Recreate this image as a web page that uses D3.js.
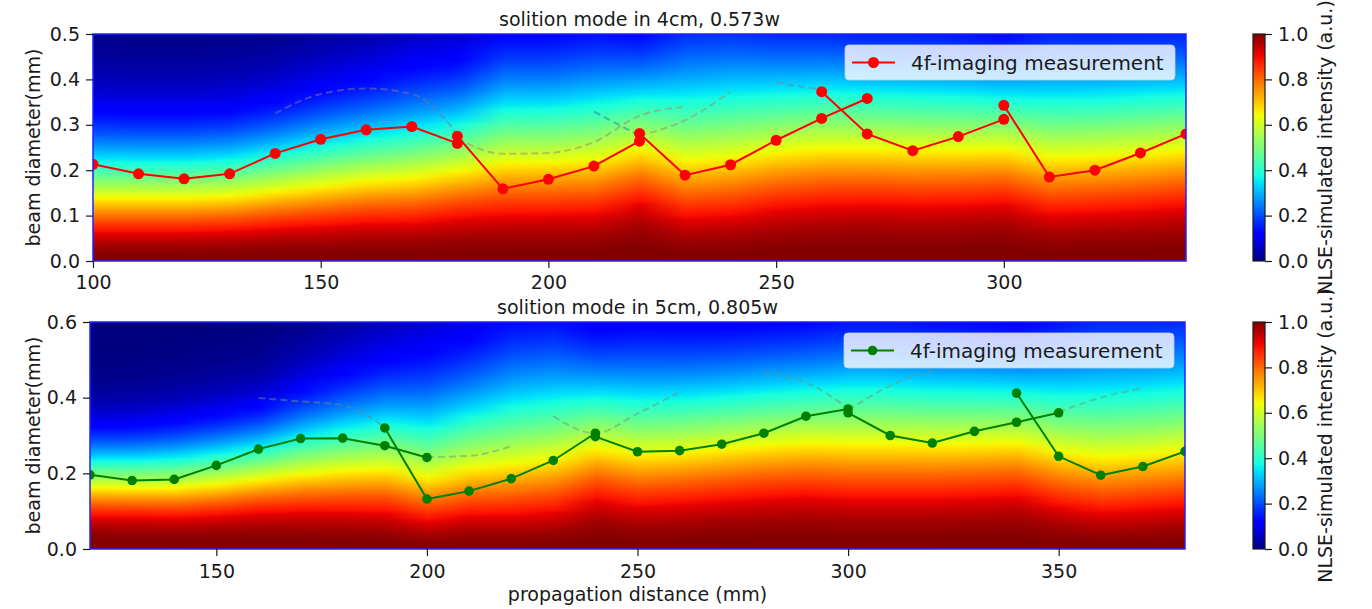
<!DOCTYPE html>
<html>
<head>
<meta charset="utf-8">
<script src="https://cdn.jsdelivr.net/npm/d3@7"></script>
<style>
  body { margin: 0; background: #fff; }
  svg text { font-family: "DejaVu Sans", sans-serif; fill: #1a1a1a; }
</style>
</head>
<body>
<svg id="chart" width="1372" height="609"></svg>
<script>
// ---- data ----
const topTitle = 'solition mode in 4cm, 0.573w';
const bottomTitle = 'solition mode in 5cm, 0.805w';
const xLabel = 'propagation distance (mm)';
const yLabel = 'beam diameter(mm)';
const cbarLabel = 'NLSE-simulated intensity (a.u.)';
const legendLabel = '4f-imaging measurement';

const topXTicks = [100, 150, 200, 250, 300];
const topYTicks = [0.0, 0.1, 0.2, 0.3, 0.4, 0.5];
const bottomXTicks = [150, 200, 250, 300, 350];
const bottomYTicks = [0.0, 0.2, 0.4, 0.6];
const cbarTicks = [0.0, 0.2, 0.4, 0.6, 0.8, 1.0];

// simulated intensity map: diameter (mm) where intensity reads 0.65 (yellow) and 0.36 (cyan)
const topSimX = [100, 110, 120, 130, 140, 150, 160, 170, 180, 190, 200, 210, 220, 230, 240, 250, 260, 270, 280, 290, 300, 310, 320, 330, 340];
const topYellowD = [0.138, 0.138, 0.138, 0.142, 0.153, 0.164, 0.175, 0.182, 0.197, 0.215, 0.216, 0.222, 0.244, 0.219, 0.226, 0.239, 0.246, 0.246, 0.243, 0.243, 0.244, 0.226, 0.229, 0.235, 0.243];
const topCyanD = [0.222, 0.221, 0.221, 0.226, 0.241, 0.259, 0.275, 0.290, 0.307, 0.340, 0.341, 0.351, 0.362, 0.362, 0.369, 0.373, 0.377, 0.373, 0.371, 0.368, 0.363, 0.362, 0.363, 0.368, 0.373];

const bottomSimX = [120, 130, 140, 150, 160, 170, 180, 190, 200, 210, 220, 230, 240, 250, 260, 270, 280, 290, 300, 310, 320, 330, 340, 350, 360, 370, 380];
const bottomYellowD = [0.161, 0.160, 0.161, 0.170, 0.183, 0.196, 0.205, 0.210, 0.188, 0.212, 0.223, 0.236, 0.265, 0.249, 0.254, 0.263, 0.272, 0.278, 0.276, 0.276, 0.274, 0.276, 0.278, 0.254, 0.241, 0.248, 0.258];
const bottomCyanD = [0.236, 0.236, 0.241, 0.254, 0.271, 0.298, 0.320, 0.337, 0.328, 0.359, 0.386, 0.399, 0.406, 0.399, 0.401, 0.408, 0.417, 0.424, 0.430, 0.430, 0.425, 0.424, 0.421, 0.415, 0.417, 0.421, 0.430];

// 4f-imaging measurement runs
const topRunX = [
  [100, 110, 120, 130, 140, 150, 160, 170, 180],
  [180, 190, 200, 210, 220],
  [220, 230, 240, 250, 260, 270],
  [260, 270, 280, 290, 300],
  [300, 310, 320, 330, 340]
];
const topRunD = [
  [0.213, 0.192, 0.181, 0.192, 0.237, 0.268, 0.289, 0.296, 0.259],
  [0.275, 0.159, 0.180, 0.209, 0.264],
  [0.281, 0.189, 0.212, 0.266, 0.314, 0.358],
  [0.373, 0.280, 0.243, 0.274, 0.312],
  [0.343, 0.185, 0.200, 0.238, 0.280]
];
const bottomRunX = [
  [120, 130, 140, 150, 160, 170, 180, 190, 200],
  [190, 200, 210, 220, 230, 240],
  [240, 250, 260, 270, 280, 290, 300],
  [300, 310, 320, 330, 340, 350],
  [340, 350, 360, 370, 380]
];
const bottomRunD = [
  [0.196, 0.181, 0.184, 0.221, 0.264, 0.292, 0.293, 0.273, 0.242],
  [0.320, 0.132, 0.153, 0.186, 0.234, 0.306],
  [0.297, 0.257, 0.260, 0.277, 0.306, 0.351, 0.370],
  [0.360, 0.300, 0.280, 0.311, 0.335, 0.360],
  [0.412, 0.245, 0.195, 0.218, 0.258]
];

// faint dashed simulated-diameter traces
const topTraceX = [[140, 150, 160, 170, 180], [180, 190, 200, 210, 220, 230], [210, 220], [220, 230, 240], [250, 260]];
const topTraceD = [[0.325, 0.368, 0.380, 0.368, 0.280], [0.270, 0.236, 0.238, 0.262, 0.320, 0.340], [0.329, 0.276], [0.276, 0.310, 0.373], [0.393, 0.377]];
const topTraceColor = ['#8a6f9a', '#9a8a6a', '#1f77b4', '#9a8a6a', '#808080'];
const bottomTraceX = [[160, 170, 180, 190], [200, 210, 220], [230, 240, 250, 260], [280, 290, 300], [300, 310, 320], [350, 360, 370]];
const bottomTraceD = [[0.399, 0.390, 0.380, 0.322], [0.243, 0.246, 0.272], [0.351, 0.306, 0.358, 0.415], [0.465, 0.440, 0.372], [0.366, 0.432, 0.472], [0.362, 0.400, 0.425]];
const bottomTraceColor = ['#6a8a7a', '#6a9a7a', '#6a9a7a', '#6a9a7a', '#6a9a7a', '#6a9a7a'];

// ---- helpers ----
const svg = d3.select('#chart');
const fontSize = 19;

const jetR = d3.scaleLinear().domain([0, 0.35, 0.66, 0.89, 1]).range([0, 0, 1, 1, 0.5]).clamp(true);
const jetG = d3.scaleLinear().domain([0, 0.125, 0.375, 0.64, 0.91, 1]).range([0, 0, 1, 1, 0, 0]).clamp(true);
const jetB = d3.scaleLinear().domain([0, 0.11, 0.34, 0.65, 1]).range([0.5, 1, 1, 0, 0]).clamp(true);
const jet = (v) => [jetR(v), jetG(v), jetB(v)].map((c) => Math.round(c * 255));

const levelYellow = -Math.log(0.65);
const levelCyan = -Math.log(0.36);

// beam profile through the two read contour heights
function profile(yellowD, cyanD) {
  const p = Math.log(levelCyan / levelYellow) / Math.log(cyanD / yellowD);
  const a = cyanD / Math.pow(levelCyan, 1 / p);
  return (d) => Math.exp(-Math.pow(d / a, p));
}

function heatmapURL(simX, yellowD, cyanD, yMax, rows) {
  const canvas = document.createElement('canvas');
  canvas.width = simX.length;
  canvas.height = rows;
  const ctx = canvas.getContext('2d');
  const img = ctx.createImageData(simX.length, rows);
  simX.forEach((_, i) => {
    const f = profile(yellowD[i], cyanD[i]);
    for (let r = 0; r < rows; r += 1) {
      const d = yMax * (1 - (r + 0.5) / rows);
      const [R, G, B] = jet(f(d));
      const k = (r * simX.length + i) * 4;
      img.data[k] = R;
      img.data[k + 1] = G;
      img.data[k + 2] = B;
      img.data[k + 3] = 255;
    }
  });
  ctx.putImageData(img, 0, 0);
  return canvas.toDataURL();
}

function styleAxis(g) {
  g.attr('font-size', null).attr('font-family', null);
  g.selectAll('text').style('font-size', fontSize + 'px');
  g.selectAll('line').attr('stroke', '#1a1a1a').attr('stroke-width', 1.2);
  g.select('.domain').remove();
}

function drawPanel(cfg) {
  const { box, id } = cfg;
  const x = d3.scaleLinear().domain(cfg.xDomain).range([box.left, box.right]);
  const y = d3.scaleLinear().domain(cfg.yDomain).range([box.bottom, box.top]);
  const g = svg.append('g');

  g.append('clipPath').attr('id', 'clip-' + id)
    .append('rect')
    .attr('x', box.left).attr('y', box.top)
    .attr('width', box.right - box.left).attr('height', box.bottom - box.top);

  const plot = g.append('g').attr('clip-path', `url(#clip-${id})`);

  // simulated intensity map
  const step = cfg.simX[1] - cfg.simX[0];
  const rows = Math.round(box.bottom - box.top);
  const x0 = x(cfg.simX[0] - step / 2);
  const x1 = x(cfg.simX[cfg.simX.length - 1] + step / 2);
  plot.append('image')
    .attr('href', heatmapURL(cfg.simX, cfg.yellowD, cfg.cyanD, cfg.yDomain[1], rows))
    .attr('x', x0).attr('y', y(cfg.yDomain[1]))
    .attr('width', x1 - x0).attr('height', y(0) - y(cfg.yDomain[1]))
    .attr('preserveAspectRatio', 'none');

  // dashed simulated traces
  const trace = d3.line().x((d) => x(d[0])).y((d) => y(d[1])).curve(d3.curveMonotoneX);
  cfg.traceX.forEach((xs, i) => {
    plot.append('path')
      .attr('d', trace(xs.map((v, j) => [v, cfg.traceD[i][j]])))
      .attr('fill', 'none')
      .attr('stroke', cfg.traceColor[i])
      .attr('stroke-opacity', 0.5)
      .attr('stroke-width', 2)
      .attr('stroke-dasharray', '7,4');
  });

  // measurement runs
  const line = d3.line().x((d) => x(d[0])).y((d) => y(d[1]));
  cfg.runX.forEach((xs, i) => {
    const pts = xs.map((v, j) => [v, cfg.runD[i][j]]);
    plot.append('path')
      .attr('d', line(pts))
      .attr('fill', 'none')
      .attr('stroke', cfg.color)
      .attr('stroke-width', 2);
    plot.selectAll(null)
      .data(pts)
      .join('circle')
      .attr('cx', (d) => x(d[0]))
      .attr('cy', (d) => y(d[1]))
      .attr('r', cfg.markerR)
      .attr('fill', cfg.color);
  });

  // spines
  g.append('rect')
    .attr('x', box.left).attr('y', box.top)
    .attr('width', box.right - box.left).attr('height', box.bottom - box.top)
    .attr('fill', 'none')
    .attr('stroke', '#2222ff')
    .attr('stroke-width', 1.5);

  g.append('g')
    .attr('transform', `translate(0,${box.bottom})`)
    .call(d3.axisBottom(x).tickValues(cfg.xTicks).tickSize(7).tickPadding(cfg.xPad).tickFormat(d3.format('d')))
    .call(styleAxis);

  g.append('g')
    .attr('transform', `translate(${box.left},0)`)
    .call(d3.axisLeft(y).tickValues(cfg.yTicks).tickSize(7).tickPadding(6).tickFormat(d3.format('.1f')))
    .call(styleAxis);

  g.append('text')
    .attr('x', (box.left + box.right) / 2)
    .attr('y', box.top - 8)
    .attr('text-anchor', 'middle')
    .style('font-size', fontSize + 'px')
    .text(cfg.title);

  g.append('text')
    .attr('transform', `translate(39.5,${(box.top + box.bottom) / 2}) rotate(-90)`)
    .attr('text-anchor', 'middle')
    .style('font-size', fontSize + 'px')
    .text(yLabel);

  // legend
  const lg = g.append('g').attr('transform', `translate(${box.right - 341},${box.top + 11})`);
  lg.append('rect')
    .attr('width', 330).attr('height', 35).attr('rx', 4)
    .attr('fill', '#ffffff').attr('fill-opacity', 0.8)
    .attr('stroke', '#cccccc').attr('stroke-opacity', 0.8);
  lg.append('line')
    .attr('x1', 7).attr('x2', 50).attr('y1', 17.5).attr('y2', 17.5)
    .attr('stroke', cfg.color).attr('stroke-width', 2);
  lg.append('circle').attr('cx', 28.5).attr('cy', 17.5).attr('r', cfg.markerR).attr('fill', cfg.color);
  lg.append('text').attr('x', 66).attr('y', 24.5).style('font-size', '20px').text(legendLabel);

  // colorbar
  const cb = { left: 1253, right: 1265 };
  const cy = d3.scaleLinear().domain([0, 1]).range([box.bottom, box.top]);
  const grad = g.append('defs').append('linearGradient')
    .attr('id', 'jet-' + id)
    .attr('x1', 0).attr('y1', 1).attr('x2', 0).attr('y2', 0);
  d3.range(0, 1.0001, 0.02).forEach((v) => {
    grad.append('stop').attr('offset', v).attr('stop-color', `rgb(${jet(v).join(',')})`);
  });
  g.append('rect')
    .attr('x', cb.left).attr('y', box.top)
    .attr('width', cb.right - cb.left).attr('height', box.bottom - box.top)
    .attr('fill', `url(#jet-${id})`)
    .attr('stroke', '#1a1a1a').attr('stroke-width', 1.2);
  g.append('g')
    .attr('transform', `translate(${cb.right},0)`)
    .call(d3.axisRight(cy).tickValues(cbarTicks).tickSize(7).tickPadding(6).tickFormat(d3.format('.1f')))
    .call(styleAxis);
  g.append('text')
    .attr('transform', `translate(1332,${(box.top + box.bottom) / 2}) rotate(-90)`)
    .attr('text-anchor', 'middle')
    .style('font-size', fontSize + 'px')
    .text(cbarLabel);

  return { x, y };
}

drawPanel({
  id: 'top',
  box: { left: 93, right: 1186, top: 34, bottom: 261 },
  xDomain: [100, 340], yDomain: [0, 0.5],
  xTicks: topXTicks, yTicks: topYTicks, xPad: 8,
  title: topTitle,
  simX: topSimX, yellowD: topYellowD, cyanD: topCyanD,
  runX: topRunX, runD: topRunD, color: '#ff0000', markerR: 5.5,
  traceX: topTraceX, traceD: topTraceD, traceColor: topTraceColor
});

drawPanel({
  id: 'bottom',
  box: { left: 90, right: 1185, top: 322, bottom: 549 },
  xDomain: [120, 380], yDomain: [0, 0.6],
  xTicks: bottomXTicks, yTicks: bottomYTicks, xPad: 9,
  title: bottomTitle,
  simX: bottomSimX, yellowD: bottomYellowD, cyanD: bottomCyanD,
  runX: bottomRunX, runD: bottomRunD, color: '#008000', markerR: 4.8,
  traceX: bottomTraceX, traceD: bottomTraceD, traceColor: bottomTraceColor
});

svg.append('text')
  .attr('x', (90 + 1185) / 2)
  .attr('y', 601)
  .attr('text-anchor', 'middle')
  .style('font-size', fontSize + 'px')
  .text(xLabel);
</script>
</body>
</html>
